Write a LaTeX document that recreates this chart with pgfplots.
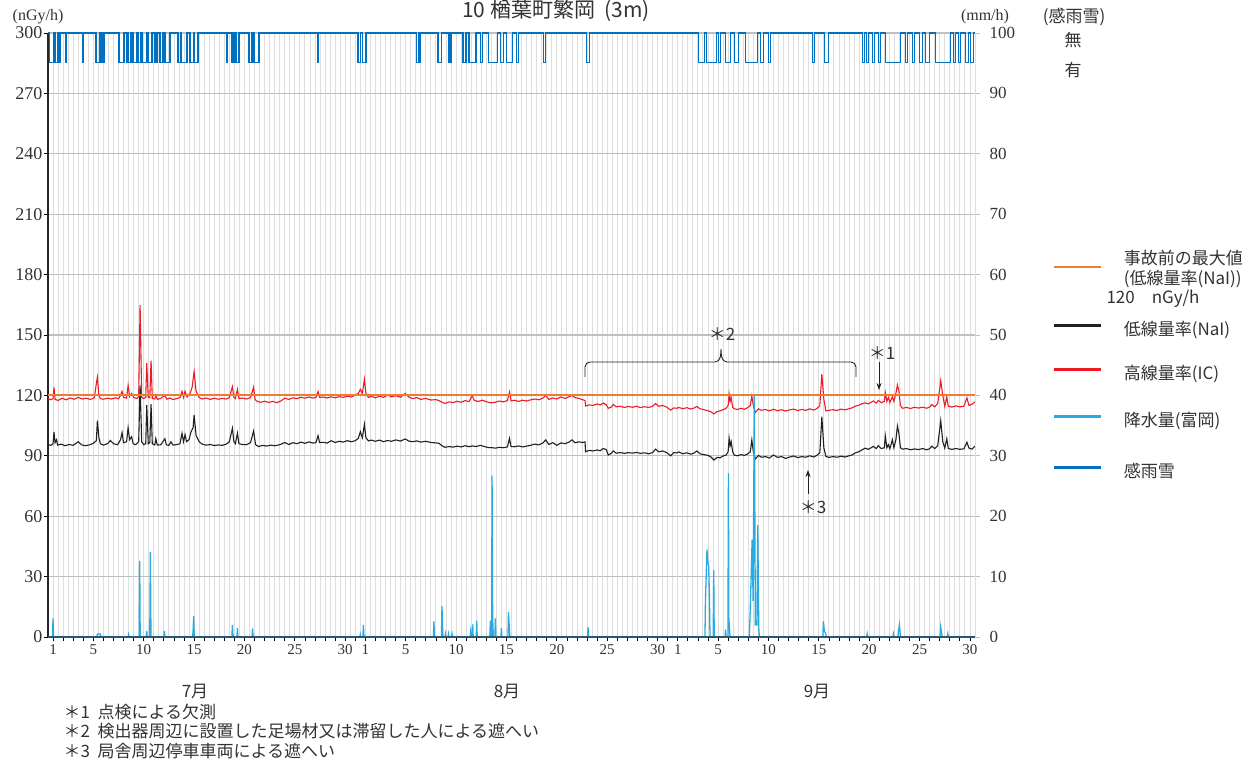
\documentclass[border=0pt]{standalone}
\usepackage{pgfplots}
\pgfplotsset{compat=1.18}
\usepackage{fontspec}
\usetikzlibrary{arrows.meta}
\setmainfont{Liberation Serif}
\newfontfamily\jp{Noto Sans CJK JP}
\definecolor{cOrange}{RGB}{237,125,49}
\definecolor{cBlack}{RGB}{35,31,32}
\definecolor{cRed}{RGB}{237,28,36}
\definecolor{cRain}{RGB}{41,171,226}
\definecolor{cSense}{RGB}{0,112,192}
\definecolor{cAxis}{RGB}{36,88,120}
\definecolor{cGrid}{RGB}{191,191,191}
\definecolor{cVgrid}{RGB}{221,221,221}
\definecolor{cText}{RGB}{50,50,50}
\pgfplotsset{
  legax/.style={at={(48pt,125pt)}, anchor=south west, scale only axis,
    width=927pt, height=604pt, hide axis, xmin=0, xmax=1, ymin=0, ymax=1,
    legend style={at={(1.0841,#1)}, anchor=west, draw=none, fill=none,
      font=\jp\fontsize{17}{20}\selectfont, text=cText, inner sep=0pt,
      nodes={inner sep=0pt},
      /tikz/every odd column/.append style={column sep=21pt}},
    legend cell align=left,
    legend image code/.code={\draw[##1,line width=2.6pt] (0pt,0.36em) -- (47pt,0.36em);}},
}
\begin{document}
\begin{tikzpicture}
\useasboundingbox (0pt,0pt) rectangle (1260pt,762pt);
\begin{axis}[
  at={(48pt,125pt)}, anchor=south west,
  scale only axis, width=927pt, height=604pt,
  xmin=-0.5, xmax=91.5, ymin=0, ymax=300,
  axis x line*=bottom, axis y line*=left,
  x axis line style={draw=cAxis, line width=2pt},
  y axis line style={draw=black!85, line width=1.2pt},
  xtick={0,...,91},
  xticklabels={1,,,,5,,,,,10,,,,,15,,,,,20,,,,,25,,,,,30,,1,,,,5,,,,,10,,,,,15,,,,,20,,,,,25,,,,,30,,1,,,,5,,,,,10,,,,,15,,,,,20,,,,,25,,,,,30},
  minor x tick num=1,
  ytick={0,30,...,300},
  tick align=outside,
  major tick length=4pt, minor tick length=0pt,
  tick style={black, line width=0.8pt},
  xmajorgrids=true, xminorgrids=true, ymajorgrids=true,
  x grid style={cVgrid, line width=0.9pt},
  y grid style={cGrid, line width=1.2pt},
  /pgf/number format/assume math mode=true,
  xticklabel style={font=\fontsize{15}{18}\selectfont, text=cText},
  yticklabel style={font=\fontsize{18}{20}\selectfont, text=cText, xshift=2pt},
]
% NaI (black)
\addplot[cBlack, line width=1.1pt] coordinates {
(-0.5,95.5)(-0.2,95.2)(0.0,96)(0.1,101.8)(0.2,96.5)(0.35,98)(0.45,95.3)(0.8,95.8)(1.2,95.0)(1.6,95.6)(2.0,95.2)(2.5,97)(2.8,95.5)(3.2,95.0)(3.6,95.4)(4.0,96.2)(4.3,97.5)(4.4,107.4)(4.55,99)(4.7,96)(5.0,95.3)(5.4,96)(5.7,97.6)(6.0,96)(6.4,95.5)(6.7,98)(6.85,101.5)(7.0,96.5)(7.3,97)(7.45,104)(7.6,98)(7.8,99.5)(7.95,96)(8.2,95.5)(8.5,97)(8.64,125)(8.8,97)(9.0,95.5)(9.2,96)(9.3,115.2)(9.45,96)(9.6,96.5)(9.73,115.7)(9.85,96)(10.1,95.4)(10.2,98.5)(10.35,95.3)(10.7,95.5)(11.1,98.5)(11.25,95.4)(11.5,95.2)(11.7,97)(11.9,95.3)(12.3,95.6)(12.6,96)(12.8,101.2)(12.95,97)(13.1,100.5)(13.25,97)(13.5,98)(13.7,102)(13.9,104)(14.0,110.3)(14.2,100)(14.5,97)(14.8,95.8)(15.2,95.3)(15.6,95.6)(16.0,95.1)(16.4,95.4)(16.8,95.2)(17.2,95.8)(17.5,97)(17.8,103.7)(17.95,97)(18.1,96)(18.3,101.2)(18.45,96)(18.8,95.6)(19.2,95.5)(19.6,96.5)(19.9,102.3)(20.1,95.5)(20.4,94.6)(20.8,95.2)(21.2,94.8)(21.6,95.3)(22.0,95.0)(22.5,95.5)(23.0,96.6)(23.4,95.6)(23.8,96.5)(24.2,96.0)(24.6,96.8)(25.0,96.2)(25.4,96.9)(25.8,96.3)(26.1,96.6)(26.3,100)(26.45,96.6)(26.8,96.7)(27.2,96.3)(27.6,97.5)(28.0,96.6)(28.4,97.2)(28.8,96.8)(29.2,97.5)(29.6,97.0)(30.0,97.5)(30.3,98.7)(30.5,102)(30.7,99)(30.9,105.6)(31.05,99)(31.3,97.4)
(31.6,97.8)(32.0,97.2)(32.4,97.8)(32.8,97.0)(33.2,97.6)(33.6,97.2)(34.0,97.9)(34.5,97.3)(34.96,98.4)(35.3,97.3)(35.7,97.0)(36.1,97.4)(36.5,96.8)(37.0,97.2)(37.5,96.6)(38.0,96.4)(38.3,96.2)(38.6,95.0)(38.9,94.2)(39.3,94.6)(39.7,94.3)(40.1,94.8)(40.5,94.4)(40.9,95.0)(41.3,94.5)(41.6,94.9)(42.0,94.6)(42.4,95.2)(42.8,94.6)(43.2,94.1)(43.6,94.0)(43.9,93.8)(44.3,94.2)(44.7,94.0)(45.1,94.4)(45.3,98.7)(45.45,94.6)(45.8,94.5)(46.2,94.9)(46.6,94.4)(47.0,94.8)(47.4,95.2)(47.8,95.8)(48.2,95.4)(48.6,96.3)(48.9,97.9)(49.2,95.6)(49.6,96.5)(50.0,95.2)(50.4,96.4)(50.8,96.0)(51.2,96.8)(51.5,97.9)(51.8,96.5)(52.2,96.9)(52.6,96.6)(52.8,96.9)(52.85,92)(53.2,92.7)(53.6,92.4)(54.0,92.9)(54.3,92.5)(54.6,93.6)(54.9,93.1)(55.1,90.4)(55.4,91.2)(55.6,92.4)(55.9,91.3)(56.3,91.6)(56.7,91.2)(57.1,91.6)(57.5,91.3)(57.9,91.7)(58.3,91.2)(58.7,91.5)(59.1,91.0)(59.5,91.6)(59.8,93.3)(60.1,92.0)(60.5,92.4)(60.9,91.6)(61.3,90.0)(61.6,91.6)(61.9,91.4)
(62.1,91.9)(62.5,91.0)(62.9,91.5)(63.3,90.8)(63.6,91.3)(63.9,92.4)(64.2,91.0)(64.6,90.6)(65.0,90.2)(65.3,89.4)(65.6,87.9)(65.9,89.2)(66.2,89.0)(66.5,89.9)(66.8,90.4)(67.0,92)(67.1,98.7)(67.2,95)(67.3,97)(67.45,92)(67.6,90.4)(67.9,90.0)(68.3,90.6)(68.6,90.2)(68.9,90.8)(69.2,92)(69.35,97.9)(69.5,92)(69.7,88.4)(70.0,90.2)(70.3,89.3)(70.7,89.6)(71.1,88.9)(71.5,90.4)(71.9,89.2)(72.3,89.6)(72.7,88.7)(73.1,89.4)(73.5,89.9)(73.9,89.1)(74.3,89.6)(74.7,89.3)(75.1,90.0)(75.5,89.4)(75.8,90.2)(76.1,91.5)(76.3,109.4)(76.5,94)(76.7,89.7)(77.0,89.2)(77.4,89.6)(77.8,89.3)(78.2,89.8)(78.6,89.4)(79.0,90.0)(79.3,90.4)(79.6,91.4)(80.0,92.1)(80.3,93.0)(80.6,93.8)(80.9,93.2)(81.2,94.0)(81.4,94.7)(81.7,93.6)(81.9,95.0)(82.2,93.6)(82.5,94)(82.6,99.8)(82.75,94)(82.9,95.5)(83.05,93.5)(83.3,98)(83.45,94)(83.65,98)(83.8,104.8)(83.95,101)(84.1,94)(84.3,93.3)(84.7,93.6)(85.1,93.0)(85.5,93.4)(85.9,93.1)(86.3,93.6)(86.7,93.0)(87.0,93.5)(87.2,94.8)(87.5,93.6)(87.8,95)(88.1,107.4)(88.3,97)(88.5,93.8)(88.7,98.5)(88.85,93.6)(89.2,93.2)(89.6,93.6)(90.0,93.2)(90.4,93.5)(90.7,96.7)(90.9,93.8)(91.2,93.3)(91.5,94.8)
};
% IC (red)
\addplot[cRed, line width=1.1pt] coordinates {
(-0.5,118.5)(-0.2,117.8)(0.0,118.4)(0.1,124)(0.2,118)(0.5,117.5)(0.9,118.6)(1.3,117.8)(1.7,118.7)(2.1,118.1)(2.5,119)(2.9,118.2)(3.3,118.6)(3.7,118.0)(4.1,118.8)(4.3,126)(4.4,129)(4.55,120)(4.7,118.4)(5.0,118.1)(5.4,118.6)(5.8,118.2)(6.2,118.8)(6.5,118.3)(6.7,120)(6.85,122)(7.0,119)(7.3,118.6)(7.45,125)(7.6,119.5)(7.8,121)(8.0,119)(8.3,118.5)(8.5,119.5)(8.64,165)(8.8,119)(9.0,118.5)(9.2,119)(9.3,136)(9.45,119)(9.6,118.8)(9.73,137.3)(9.85,118.5)(10.1,118.2)(10.2,120)(10.35,118.0)(10.7,118.6)(11.1,120)(11.3,118.1)(11.6,118.7)(11.9,117.9)(12.3,118.5)(12.6,118.9)(12.8,122)(12.95,119)(13.1,122)(13.3,119.2)(13.6,121)(13.8,124)(14.0,131.8)(14.2,122)(14.5,119)(14.8,118.2)(15.2,118.7)(15.6,118.0)(16.0,118.6)(16.4,118.1)(16.8,118.5)(17.2,118.2)(17.5,118.9)(17.8,124.3)(17.95,119)(18.1,118.4)(18.3,123)(18.45,118.4)(18.8,118.7)(19.2,118.2)(19.6,118.9)(19.9,124)(20.05,118)(20.2,117.2)(20.6,116.6)(21.0,117.1)(21.4,116.5)(21.8,117.0)(22.2,116.4)(22.6,117.2)(23.0,118.6)(23.4,118.0)(23.8,118.8)(24.2,118.4)(24.6,119.1)(25.0,118.6)(25.4,119.2)(25.8,118.7)(26.1,119.0)(26.3,122)(26.45,119)(26.8,119.2)(27.2,118.7)(27.6,119.3)(28.0,118.8)(28.4,119.4)(28.8,119.0)(29.2,119.6)(29.6,119.2)(30.0,120.1)(30.3,121)(30.5,123)(30.7,121)(30.9,128)(31.05,121)(31.3,119)
(31.6,119.5)(32.0,118.8)(32.4,119.6)(32.8,119.0)(33.2,120.2)(33.6,119.3)(34.0,119.8)(34.5,119.1)(34.96,121)(35.3,119.2)(35.7,118.4)(36.1,118.9)(36.5,118.0)(37.0,118.5)(37.5,117.7)(38.0,117.9)(38.3,117.4)(38.6,116.6)(38.9,116.0)(39.3,116.8)(39.7,116.4)(40.1,117.1)(40.5,116.6)(40.9,117.4)(41.3,116.9)(41.6,120)(41.8,117.5)(42.2,117.0)(42.6,117.6)(43.0,116.9)(43.4,116.3)(43.9,116.6)(44.3,117.2)(44.7,116.8)(45.1,117.4)(45.3,121.7)(45.45,117.3)(45.8,117.6)(46.2,117.0)(46.6,117.6)(47.0,117.2)(47.4,117.8)(47.8,118.2)(48.2,117.8)(48.6,118.6)(48.9,120)(49.2,118.0)(49.6,118.7)(50.0,118.2)(50.4,119.2)(50.8,118.5)(51.2,119.3)(51.5,120)(51.8,118.9)(52.2,118.5)(52.6,117.8)(52.8,117.4)(52.85,114.7)(53.2,115.3)(53.6,115.0)(54.0,115.8)(54.3,115.2)(54.6,116.2)(54.9,115.4)(55.1,113.6)(55.4,114.2)(55.6,115.5)(55.9,114.3)(56.3,114.6)(56.7,114.0)(57.1,114.5)(57.5,114.1)(57.9,114.6)(58.3,113.9)(58.7,114.4)(59.1,114.0)(59.5,114.6)(59.8,116)(60.1,114.6)(60.5,115.0)(60.9,114.2)(61.3,112.7)(61.6,113.8)(61.9,113.6)
(62.1,114.0)(62.5,113.4)(62.9,113.9)(63.3,113.2)(63.6,113.7)(63.9,114.5)(64.2,113.4)(64.6,112.9)(65.0,112.4)(65.3,111.8)(65.6,110.8)(65.9,112.0)(66.2,112.3)(66.5,112.9)(66.8,113.6)(67.0,115)(67.1,120.7)(67.2,117)(67.3,119)(67.45,114)(67.6,113.4)(67.9,113.0)(68.3,113.6)(68.6,113.1)(68.9,113.8)(69.2,115)(69.35,119.7)(69.5,115)(69.7,111.5)(70.0,113.3)(70.3,112.6)(70.7,113.0)(71.1,112.3)(71.5,113.1)(71.9,112.4)(72.3,112.9)(72.7,112.2)(73.1,112.8)(73.5,113.2)(73.9,112.5)(74.3,113.0)(74.7,112.6)(75.1,113.3)(75.5,112.7)(75.8,113.4)(76.1,115)(76.3,130.6)(76.5,118)(76.7,112.3)(77.0,112.6)(77.4,112.9)(77.8,112.5)(78.2,113.2)(78.6,112.8)(79.0,113.4)(79.3,113.8)(79.6,114.6)(80.0,115.2)(80.3,115.9)(80.6,116.3)(80.9,115.8)(81.2,116.6)(81.4,117.2)(81.7,116.2)(81.9,117.5)(82.2,116.4)(82.5,117)(82.6,121.4)(82.75,117)(82.9,119)(83.05,116.5)(83.3,119.3)(83.45,117)(83.65,121)(83.8,125.2)(83.95,122)(84.1,115)(84.3,113.6)(84.7,114.0)(85.1,113.5)(85.5,114.1)(85.9,113.7)(86.3,114.2)(86.7,113.6)(87.0,114.2)(87.2,115.5)(87.5,114.3)(87.8,116)(88.1,127.3)(88.3,120)(88.5,114.6)(88.7,119.3)(88.85,114.6)(89.2,114.2)(89.6,114.8)(90.0,114.3)(90.4,114.7)(90.7,118.8)(90.9,115.0)(91.2,115.6)(91.5,116.8)
};
% pre-accident maximum
\addplot[cOrange, line width=2.2pt] coordinates {(-0.5,120)(91.5,120)};
\end{axis}

\begin{axis}[
  at={(48pt,125pt)}, anchor=south west,
  scale only axis, width=927pt, height=604pt,
  xmin=-0.5, xmax=91.5, ymin=0, ymax=100,
  axis y line*=right, axis x line*=bottom,
  xtick=\empty,
  x axis line style={draw=cAxis, line width=2pt},
  y axis line style={draw=cVgrid, line width=1pt},
  ytick={0,10,...,100},
  tick align=outside, major tick length=5pt,
  tick style={cGrid, line width=0.8pt},
  /pgf/number format/assume math mode=true,
  yticklabel style={font=\fontsize{17}{19}\selectfont, text=cText, xshift=6pt},
  axis on top=true,
  clip=false,
]
\addplot[cRain, line width=1.3pt] coordinates {
(-0.5,0)(-0.05,0)(0,3.1)(0.05,0)(4.35,0)(4.4,0.5)(4.7,0.5)(4.75,0)(7.45,0)(7.5,0.4)(7.55,0)(8.55,0)(8.6,12.6)(8.65,0)(9.25,0)(9.3,1.0)(9.35,0)(9.6,0)(9.66,14.1)(9.72,0)(11.0,0)(11.05,1.0)(11.1,0)(13.85,0)(13.9,1.0)(13.96,3.5)(14.02,0)(17.75,0)(17.8,2.0)(17.85,0.5)(17.9,0)(18.25,0)(18.3,1.5)(18.35,0)(19.75,0)(19.8,1.4)(19.85,0.3)(19.9,0)(30.45,0)(30.5,0.4)(30.55,0)(30.75,0)(30.8,2.0)(30.86,0)(37.75,0)(37.8,2.6)(37.85,0)(38.55,0)(38.6,5.1)(38.65,2.0)(38.7,0)(38.9,0)(38.95,0.5)(39.0,0)(39.2,0)(39.25,0.5)(39.3,0)(39.55,0)(39.6,0.5)(39.65,0)(41.4,0)(41.45,1.0)(41.55,0)(41.6,0)(41.65,2.1)(41.7,0)(42.0,0)(42.05,2.7)(42.1,0)(43.35,0)(43.4,2.7)(43.5,0)(43.53,0)(43.57,26.7)(43.63,3.0)(43.7,0)(43.85,0)(43.9,3.1)(43.95,0)(44.45,0)(44.5,1.5)(44.55,0)(45.15,0)(45.2,4.1)(45.3,1.0)(45.35,0)(53.05,0)(53.1,1.6)(53.15,0)(64.7,0)(64.75,6.1)(64.9,14.5)(65.0,12.1)(65.07,11.8)(65.15,6.0)(65.2,0)(65.52,0)(65.57,11.1)(65.62,0)(66.7,0)(66.75,1.2)(66.8,0)(66.98,0)(67.03,27.1)(67.07,3.1)(67.15,1.0)(67.2,0)(69.1,0)(69.2,4.7)(69.38,16.1)(69.48,6.0)(69.6,40)(69.7,2.0)(69.85,2.0)(69.94,18.5)(70.04,1.5)(70.1,0)(76.4,0)(76.45,2.6)(76.55,1.0)(76.7,0.5)(76.75,0)(80.75,0)(80.8,0.5)(80.85,0)(83.35,0)(83.4,0.5)(83.45,0)(83.85,0)(83.9,1.0)(84.0,2.0)(84.1,0)(88.05,0)(88.1,1.6)(88.2,0.5)(88.25,0)(88.75,0)(88.8,0.5)(88.85,0)(91.5,0)
};
\addplot[cSense, line width=1.5pt, const plot] coordinates {
(-0.5,100)(-0.37,95.1)(0.1,100)(0.2,95.1)(0.43,100)(0.6,95.1)(0.7,100)(1.29,95.1)(1.33,100)(2.9,95.1)(2.95,100)(4.24,95.1)(4.67,100)(4.84,95.1)(5.06,100)(6.55,95.1)(7.05,100)(7.3,95.1)(7.35,100)(7.45,95.1)(7.75,100)(7.95,95.1)(8.34,100)(8.5,95.1)(8.74,100)(8.84,95.1)(9.33,100)(9.46,95.1)(9.8,100)(10.13,95.1)(10.33,100)(10.63,95.1)(10.92,100)(11.12,95.1)(11.62,100)(12.41,95.1)(12.7,100)(12.75,95.1)(13.3,100)(13.6,95.1)(14.0,100)(14.05,95.1)(14.4,100)(17.25,95.1)(17.3,100)(17.75,95.1)(17.97,100)(18.17,95.1)(18.47,100)(19.46,95.1)(19.76,100)(19.96,95.1)(20.46,100)(26.29,95.1)(26.33,100)(30.26,95.1)(30.49,100)(30.69,95.1)(31.05,100)(36.05,95.1)(36.25,100)(36.35,95.1)(36.4,100)(38.23,95.1)(38.53,100)(39.3,95.1)(39.5,100)(40.7,95.1)(41.0,100)(41.3,95.1)(42.0,100)(42.4,95.1)(42.6,100)(43.2,95.1)(44.1,100)(44.4,95.1)(44.7,100)(45.0,95.1)(45.6,100)(45.98,95.1)(46.18,100)(48.66,95.1)(48.86,100)(52.93,95.1)(53.23,100)(64.05,95.1)(64.65,100)(64.85,95.1)(65.84,100)(66.03,95.1)(66.23,100)(66.73,95.1)(67.23,100)(67.63,95.1)(68.03,100)(68.72,95.1)(69.91,100)(70.2,95.1)(70.5,100)(71.0,95.1)(71.2,100)(75.37,95.1)(75.57,100)(76.57,95.1)(76.96,100)(80.34,95.1)(80.54,100)(80.73,95.1)(80.93,100)(81.33,95.1)(81.53,100)(81.92,95.1)(82.12,100)(82.62,95.1)(84.11,100)(84.6,95.1)(84.8,100)(85.3,95.1)(85.5,100)(86.0,95.1)(86.3,100)(86.6,95.1)(87.0,100)(87.6,95.1)(89.07,100)(89.37,95.1)(89.57,100)(89.87,95.1)(90.07,100)(90.57,95.1)(90.86,100)(91.06,95.1)(91.36,100)(91.5,100)
};
\end{axis}

% legend, one entry per hidden axis
\begin{axis}[legax=0.6192,
  legend image code/.code={\draw[#1,line width=2.6pt] (0pt,-4pt) -- (47pt,-4pt);}]
\addlegendimage{cOrange}
\addlegendentry{\begin{tabular}[c]{@{}l@{}}事故前の最大値\\(低線量率(NaI))\end{tabular}}
\end{axis}
\begin{axis}[legax=0.5099]
\addlegendimage{cBlack}
\addlegendentry{低線量率(NaI)}
\end{axis}
\begin{axis}[legax=0.4371]
\addlegendimage{cRed}
\addlegendentry{高線量率(IC)}
\end{axis}
\begin{axis}[legax=0.3593]
\addlegendimage{cRain}
\addlegendentry{降水量(富岡)}
\end{axis}
\begin{axis}[legax=0.2748]
\addlegendimage{cSense}
\addlegendentry{感雨雪}
\end{axis}
\node[anchor=west, font=\jp\fontsize{17}{19}\selectfont, text=cText] at (1103pt,463pt) {120\quad nGy/h};

% header texts
\node[font=\jp\fontsize{21}{23}\selectfont, text=cText] at (556pt,751pt) {10\ 楢葉町繁岡\ \ (3m)};
\node[font=\fontsize{16}{18}\selectfont, text=cText] at (38pt,745pt) {(nGy/h)};
\node[font=\fontsize{16}{18}\selectfont, text=cText] at (985pt,745pt) {(mm/h)};
\node[font=\jp\fontsize{17}{19}\selectfont, text=cText] at (1074pt,745pt) {(感雨雪)};
\node[font=\jp\fontsize{17}{19}\selectfont, text=cText] at (1073pt,722pt) {無};
\node[font=\jp\fontsize{17}{19}\selectfont, text=cText] at (1073pt,692pt) {有};
% month labels
\node[font=\jp\fontsize{17}{19}\selectfont, text=cText] at (195pt,70pt) {7月};
\node[font=\jp\fontsize{17}{19}\selectfont, text=cText] at (507pt,70pt) {8月};
\node[font=\jp\fontsize{17}{19}\selectfont, text=cText] at (817pt,70pt) {9月};
% notes
\node[anchor=west, font=\jp\fontsize{17}{19}\selectfont, text=cText] at (60pt,50pt) {＊1\ \ 点検による欠測};
\node[anchor=west, font=\jp\fontsize{17}{19}\selectfont, text=cText] at (60pt,31pt) {＊2\ \ 検出器周辺に設置した足場材又は滞留した人による遮へい};
\node[anchor=west, font=\jp\fontsize{17}{19}\selectfont, text=cText] at (60pt,11pt) {＊3\ \ 局舎周辺停車車両による遮へい};
% annotations
\draw[cBlack, line width=0.9pt] (585pt,385pt) -- (585pt,395pt) to[out=90,in=180] (590pt,400pt) -- (715pt,400pt) to[out=0,in=270] (721pt,413pt) to[out=270,in=180] (727pt,400pt) -- (851pt,400pt) to[out=0,in=90] (856pt,395pt) -- (856pt,385pt);
\node[font=\jp\fontsize{17}{19}\selectfont, text=cText] at (722pt,428pt) {＊2};
\node[font=\jp\fontsize{17}{19}\selectfont, text=cText] at (882pt,409pt) {＊1};
\draw[cBlack, line width=0.8pt, -{Stealth[length=7pt,width=5pt]}] (879pt,400pt) -- (879pt,372pt);
\node[font=\jp\fontsize{17}{19}\selectfont, text=cText] at (813pt,255pt) {＊3};
\draw[cBlack, line width=0.8pt, -{Stealth[length=7pt,width=5pt]}] (808pt,268pt) -- (808pt,292pt);
\end{tikzpicture}
\end{document}
